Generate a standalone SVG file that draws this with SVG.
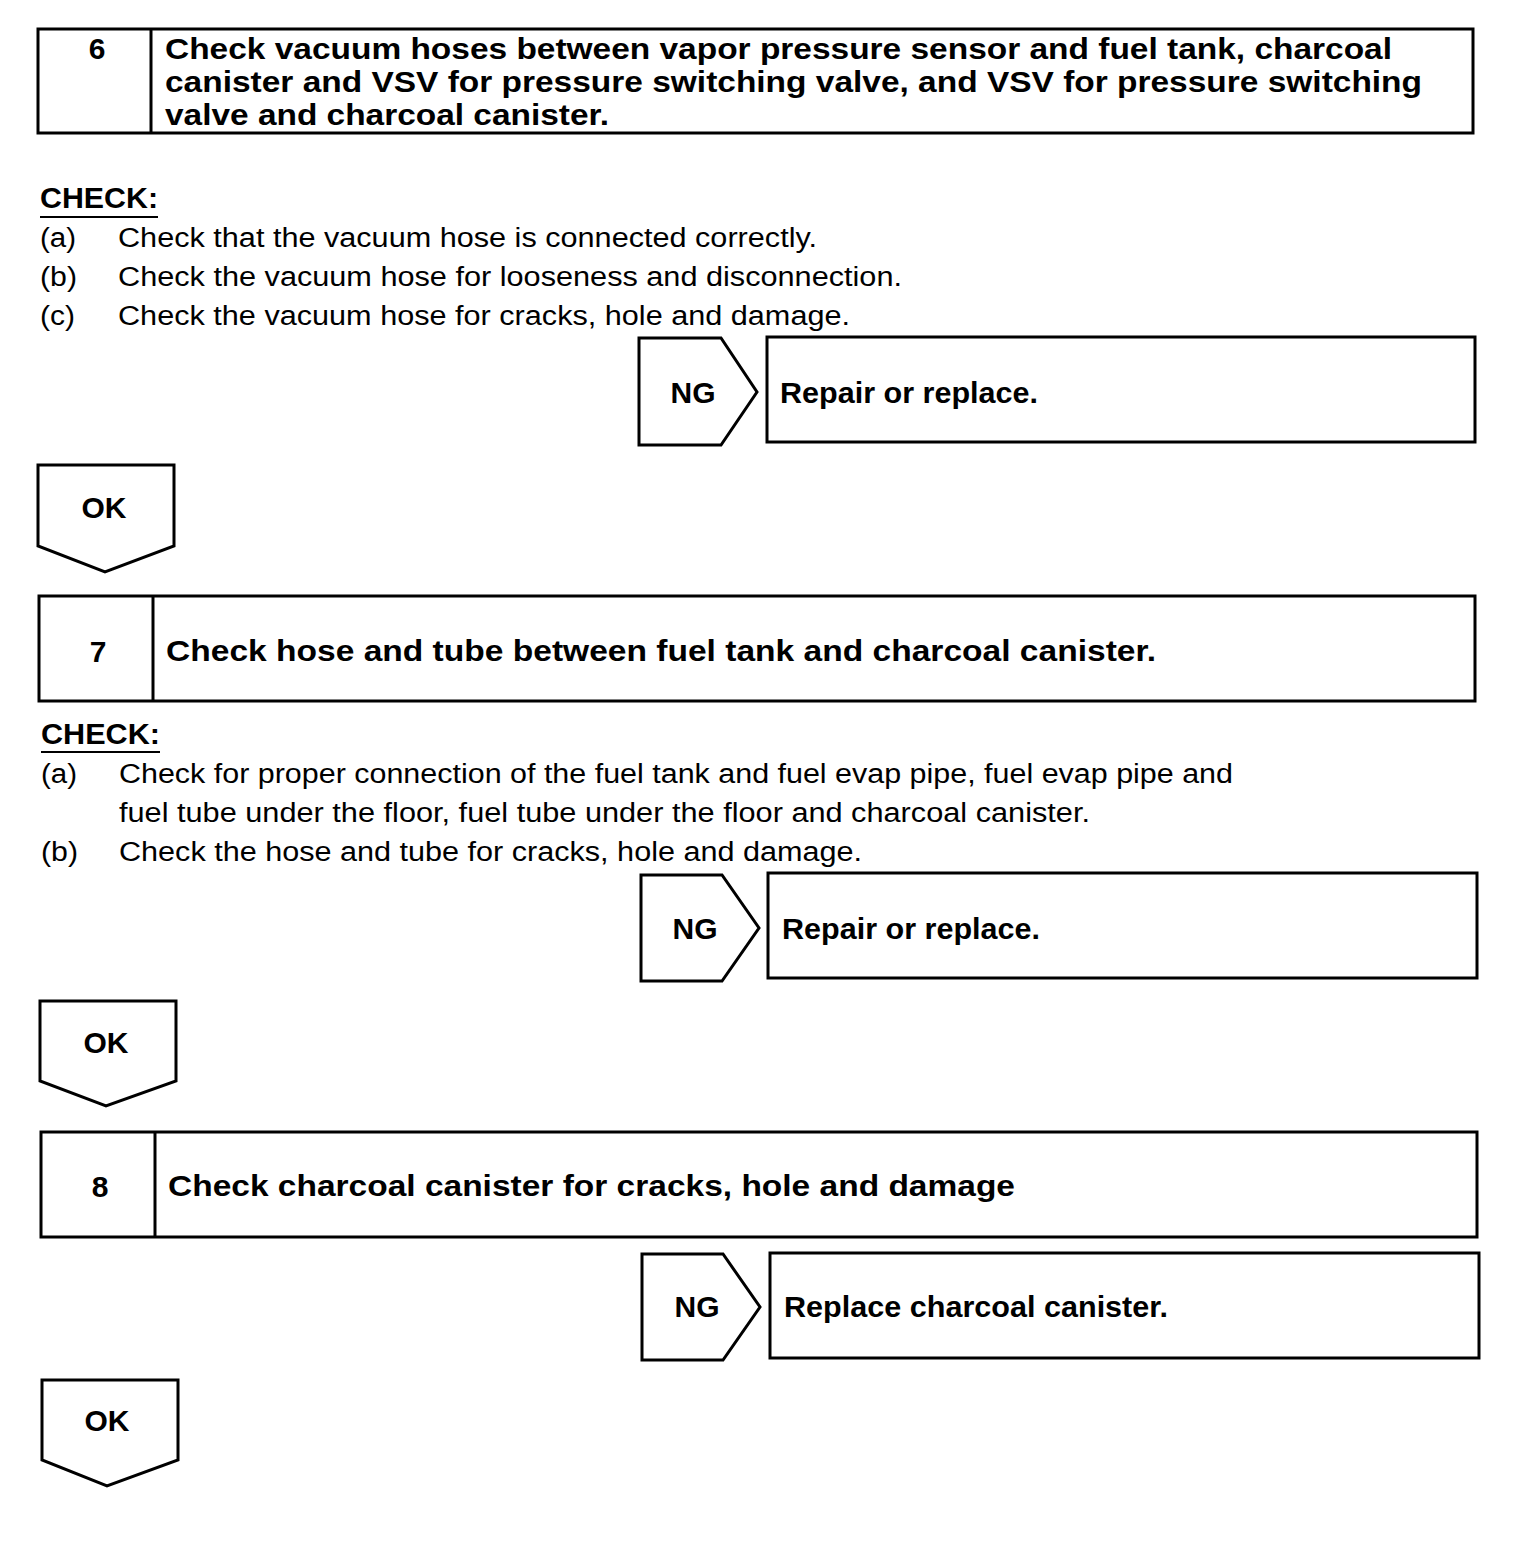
<svg xmlns="http://www.w3.org/2000/svg" width="1520" height="1564" viewBox="0 0 1520 1564">
<style>
.box{fill:#fff;stroke:#000;stroke-width:3}
.b{font-family:"Liberation Sans",Arial,sans-serif;font-weight:bold;fill:#000}
.t{font-size:30px}
.r{font-family:"Liberation Sans",Arial,sans-serif;font-size:27px;fill:#000}
.c{font-size:30px;text-anchor:middle}
.ul{stroke:#000;stroke-width:2}
</style>
<rect width="1520" height="1564" fill="#fff"/>

<g id="step6">
<rect class="box" x="38" y="29" width="1435" height="104"/>
<line class="box" x1="151" y1="29" x2="151" y2="133"/>
<text class="b c" x="97" y="59">6</text>
<text class="b t" x="165" y="59" textLength="1227" lengthAdjust="spacingAndGlyphs">Check vacuum hoses between vapor pressure sensor and fuel tank, charcoal</text>
<text class="b t" x="165" y="92" textLength="1257" lengthAdjust="spacingAndGlyphs">canister and VSV for pressure switching valve, and VSV for pressure switching</text>
<text class="b t" x="165" y="125" textLength="444" lengthAdjust="spacingAndGlyphs">valve and charcoal canister.</text>
</g>

<g id="check6">
<text class="b" x="40" y="208" font-size="29" textLength="118" lengthAdjust="spacingAndGlyphs">CHECK:</text>
<line class="ul" x1="40" y1="217" x2="158" y2="217"/>
<text class="r" x="40" y="247" textLength="36" lengthAdjust="spacingAndGlyphs">(a)</text>
<text class="r" x="118" y="247" textLength="699" lengthAdjust="spacingAndGlyphs">Check that the vacuum hose is connected correctly.</text>
<text class="r" x="40" y="286" textLength="37" lengthAdjust="spacingAndGlyphs">(b)</text>
<text class="r" x="118" y="286" textLength="784" lengthAdjust="spacingAndGlyphs">Check the vacuum hose for looseness and disconnection.</text>
<text class="r" x="40" y="325" textLength="35" lengthAdjust="spacingAndGlyphs">(c)</text>
<text class="r" x="118" y="325" textLength="732" lengthAdjust="spacingAndGlyphs">Check the vacuum hose for cracks, hole and damage.</text>
</g>

<g id="ng6">
<polygon class="box" points="639,338 721,338 757,392 721,445 639,445"/>
<text class="b c" x="693" y="403">NG</text>
</g>
<g id="result6">
<rect class="box" x="767" y="337" width="708" height="105"/>
<text class="b t" x="780" y="403" textLength="258" lengthAdjust="spacingAndGlyphs">Repair or replace.</text>
</g>
<g id="ok6">
<polygon class="box" points="38,465 174,465 174,546 105,572 38,546"/>
<text class="b c" x="104" y="518">OK</text>
</g>

<g id="step7">
<rect class="box" x="39" y="596" width="1436" height="105"/>
<line class="box" x1="153" y1="596" x2="153" y2="701"/>
<text class="b c" x="98" y="662">7</text>
<text class="b t" x="166" y="661" textLength="990" lengthAdjust="spacingAndGlyphs">Check hose and tube between fuel tank and charcoal canister.</text>
</g>

<g id="check7">
<text class="b" x="41" y="744" font-size="29" textLength="119" lengthAdjust="spacingAndGlyphs">CHECK:</text>
<line class="ul" x1="41" y1="752" x2="160" y2="752"/>
<text class="r" x="41" y="783" textLength="36" lengthAdjust="spacingAndGlyphs">(a)</text>
<text class="r" x="119" y="783" textLength="1114" lengthAdjust="spacingAndGlyphs">Check for proper connection of the fuel tank and fuel evap pipe, fuel evap pipe and</text>
<text class="r" x="119" y="822" textLength="971" lengthAdjust="spacingAndGlyphs">fuel tube under the floor, fuel tube under the floor and charcoal canister.</text>
<text class="r" x="41" y="861" textLength="37" lengthAdjust="spacingAndGlyphs">(b)</text>
<text class="r" x="119" y="861" textLength="743" lengthAdjust="spacingAndGlyphs">Check the hose and tube for cracks, hole and damage.</text>
</g>

<g id="ng7">
<polygon class="box" points="641,875 722,875 759,928 722,981 641,981"/>
<text class="b c" x="695" y="939">NG</text>
</g>
<g id="result7">
<rect class="box" x="768" y="873" width="709" height="105"/>
<text class="b t" x="782" y="939" textLength="258" lengthAdjust="spacingAndGlyphs">Repair or replace.</text>
</g>
<g id="ok7">
<polygon class="box" points="40,1001 176,1001 176,1081 106,1106 40,1081"/>
<text class="b c" x="106" y="1053">OK</text>
</g>

<g id="step8">
<rect class="box" x="41" y="1132" width="1436" height="105"/>
<line class="box" x1="155" y1="1132" x2="155" y2="1237"/>
<text class="b c" x="100" y="1197">8</text>
<text class="b t" x="168" y="1196" textLength="847" lengthAdjust="spacingAndGlyphs">Check charcoal canister for cracks, hole and damage</text>
</g>

<g id="ng8">
<polygon class="box" points="642,1254 723,1254 760,1307 723,1360 642,1360"/>
<text class="b c" x="697" y="1317">NG</text>
</g>
<g id="result8">
<rect class="box" x="770" y="1253" width="709" height="105"/>
<text class="b t" x="784" y="1317" textLength="384" lengthAdjust="spacingAndGlyphs">Replace charcoal canister.</text>
</g>
<g id="ok8">
<polygon class="box" points="42,1380 178,1380 178,1460 107,1486 42,1460"/>
<text class="b c" x="107" y="1431">OK</text>
</g>

<g id="connectors"></g>
</svg>
